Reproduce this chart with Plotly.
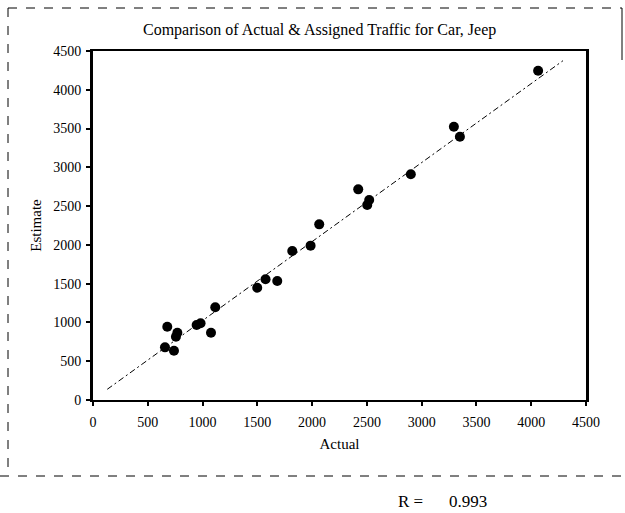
import plotly.graph_objects as go

actual = [678, 657, 739, 757, 770, 946, 982, 1077, 1116, 1499, 1575, 1682, 1819,
          1986, 2065, 2421, 2521, 2503, 2901, 3294, 3349, 4063]
estimate = [945, 679, 636, 816, 868, 967, 989, 868, 1195, 1448, 1556, 1534, 1921,
            1990, 2265, 2716, 2579, 2514, 2910, 3524, 3395, 4246]
trend_x = [130, 4290]
trend_y = [138, 4375]
ticks = [0, 500, 1000, 1500, 2000, 2500, 3000, 3500, 4000, 4500]
title = "Comparison of Actual &amp; Assigned Traffic for Car, Jeep"
r_label = "R ="
r_value = "0.993"

FONT = "Liberation Serif"

fig = go.Figure()
fig.add_trace(go.Scatter(x=trend_x, y=trend_y, mode="lines",
                         line=dict(color="black", width=1, dash="6px,3px,2px,3px"),
                         hoverinfo="skip", showlegend=False))
fig.add_trace(go.Scatter(x=actual, y=estimate, mode="markers",
                         marker=dict(color="black", size=10, symbol="circle"),
                         showlegend=False))

axis_common = dict(range=[0, 4500], tickvals=ticks, ticks="outside", ticklen=4,
                   tickwidth=1.5, tickcolor="black", showgrid=False, zeroline=False,
                   showline=True, linecolor="black", mirror=True,
                   tickfont=dict(family=FONT, size=14, color="black"))

fig.update_xaxes(**axis_common, linewidth=2, ticklabelstandoff=4,
                 title=dict(text="Actual", font=dict(family=FONT, size=15, color="black"),
                            standoff=10))
fig.update_yaxes(**axis_common, linewidth=3, ticklabelstandoff=2,
                 title=dict(text="Estimate", font=dict(family=FONT, size=15, color="black"),
                            standoff=8))

fig.update_layout(
    width=625, height=513,
    margin=dict(l=93, r=39, t=51, b=113),
    paper_bgcolor="white", plot_bgcolor="white",
    font=dict(family=FONT, color="black"),
    annotations=[
        dict(text=title, xref="paper", yref="paper", x=0.46, y=1.0, yshift=10,
             showarrow=False, xanchor="center", yanchor="bottom",
             font=dict(family=FONT, size=16, color="black")),
        dict(text=r_label, xref="paper", yref="paper", x=(396 - 93) / 493,
             y=-(501 - 400) / 349, showarrow=False, xanchor="left", yanchor="middle",
             font=dict(family=FONT, size=17, color="black")),
        dict(text=r_value, xref="paper", yref="paper", x=(447 - 93) / 493,
             y=-(501 - 400) / 349, showarrow=False, xanchor="left", yanchor="middle",
             font=dict(family=FONT, size=17, color="black")),
    ],
    shapes=[
        dict(type="line", xref="paper", yref="paper",
             x0=-(93 - 0) / 493, x1=(625 - 93) / 493,
             y0=-(476 - 400) / 349, y1=-(476 - 400) / 349,
             line=dict(color="black", width=1, dash="dash")),
        dict(type="line", xref="paper", yref="paper",
             x0=-(93 - 8) / 493, x1=(622 - 93) / 493,
             y0=1 + (51 - 8) / 349, y1=1 + (51 - 8) / 349,
             line=dict(color="black", width=1, dash="dash")),
        dict(type="line", xref="paper", yref="paper",
             x0=-(93 - 8) / 493, x1=-(93 - 8) / 493,
             y0=1 + (51 - 8) / 349, y1=-(470 - 400) / 349,
             line=dict(color="black", width=1, dash="dash")),
        dict(type="line", xref="paper", yref="paper",
             x0=(622 - 93) / 493, x1=(622 - 93) / 493,
             y0=1 + (51 - 8) / 349, y1=1 + (51 - 60) / 349,
             line=dict(color="black", width=1)),
    ],
)

fig.write_html("out.html")
